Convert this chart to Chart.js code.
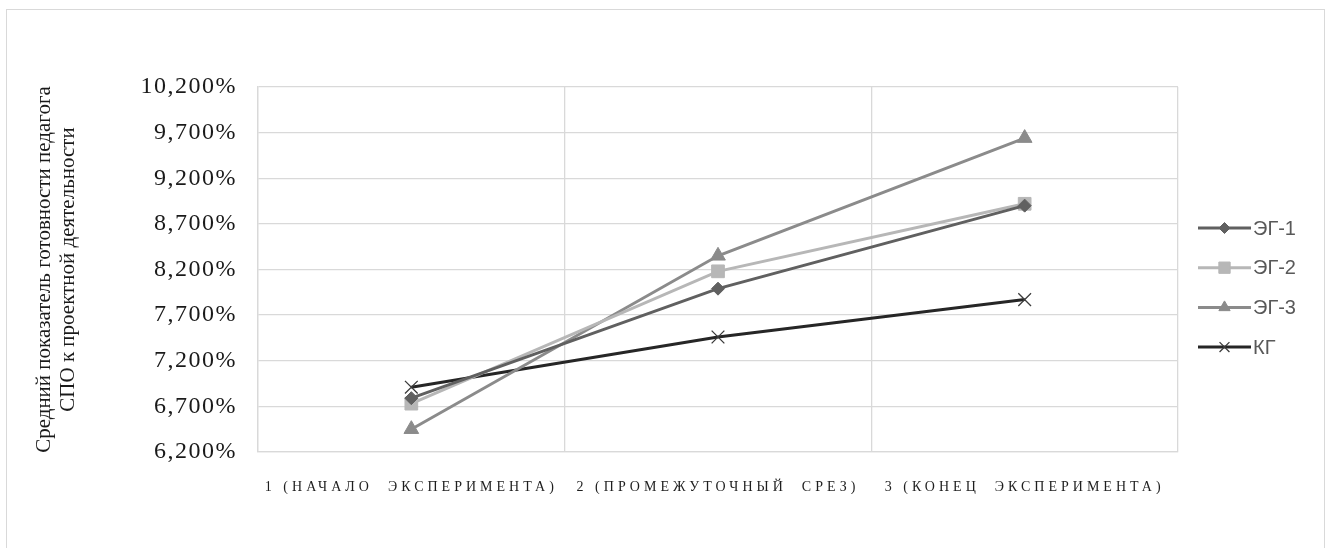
<!DOCTYPE html>
<html>
<head>
<meta charset="utf-8">
<script src="https://cdn.jsdelivr.net/npm/chart.js@4.4.1/dist/chart.umd.min.js"></script>
<style>
  html, body { margin: 0; padding: 0; background: #fff; }
  #wrap { position: absolute; left: 0; top: 0; width: 1328px; height: 548px; overflow: hidden; }
  #frame { position: absolute; left: 6px; top: 9px; width: 1319px; height: 600px; border: 1px solid #d9d9d9; box-sizing: border-box; }
  #c { position: absolute; left: 0; top: 0; }
</style>
</head>
<body>
<div id="wrap">
  <div id="frame"></div>
  <canvas id="c" width="1328" height="548"></canvas>
</div>
<script>
// Stages of the experiment
const categories = ['1 (НАЧАЛО  ЭКСПЕРИМЕНТА)', '2 (ПРОМЕЖУТОЧНЫЙ  СРЕЗ)', '3 (КОНЕЦ  ЭКСПЕРИМЕНТА)'];

// Average readiness, %
const eg1 = [6.79, 7.99, 8.90];
const eg2 = [6.73, 8.18, 8.92];
const eg3 = [6.45, 8.35, 9.64];
const kg  = [6.91, 7.46, 7.87];

const seriesNames = ['ЭГ-1', 'ЭГ-2', 'ЭГ-3', 'КГ'];
const yTicks = [6.2, 6.7, 7.2, 7.7, 8.2, 8.7, 9.2, 9.7, 10.2];
const yTitle = ['Средний показатель готовности педагога', 'СПО к проектной деятельности'];

const fmtPct = v => v.toFixed(3).replace('.', ',') + '%';

// Legend on the right: a short line with the series marker in the middle
const sideLegend = {
  id: 'sideLegend',
  afterDraw(chart) {
    const ctx = chart.ctx;
    const area = chart.chartArea;
    const x0 = area.right + 20;
    const len = 53;
    chart.data.datasets.forEach((ds, i) => {
      const y = area.top + 141 + i * 39.7;
      ctx.save();
      ctx.strokeStyle = ds.borderColor;
      ctx.lineWidth = ds.borderWidth;
      ctx.beginPath();
      ctx.moveTo(x0, y);
      ctx.lineTo(x0 + len, y);
      ctx.stroke();
      ctx.fillStyle = ds.pointBackgroundColor;
      ctx.strokeStyle = ds.pointBorderColor;
      ctx.lineWidth = ds.pointBorderWidth;
      Chart.helpers.drawPoint(ctx, { pointStyle: ds.pointStyle, radius: ds.legendRadius, rotation: 0, borderWidth: ds.pointBorderWidth }, x0 + len / 2, y);
      ctx.fillStyle = '#595959';
      ctx.font = '20px "Liberation Sans", Arial, sans-serif';
      ctx.textAlign = 'left';
      ctx.textBaseline = 'middle';
      ctx.fillText(ds.label, x0 + len + 2, y + 1);
      ctx.restore();
    });
  }
};

// Spaced-out lettering for the axis labels
const spacedLabels = {
  id: 'spacedLabels',
  beforeDraw(chart) {
    const spacing = { x: '4px', y: '1.5px' };
    Object.keys(spacing).forEach(id => {
      const s = chart.scales[id];
      if (s && !s._spaced) {
        const orig = s.drawLabels.bind(s);
        s.drawLabels = function (area) {
          const ctx = chart.ctx;
          ctx.save();
          ctx.letterSpacing = spacing[id];
          orig(area);
          ctx.restore();
        };
        s._spaced = true;
      }
    });
  }
};

const mk = (label, data, color, style, radius, legendRadius, pointColor, pointBorder, pointBorderWidth) => ({
  label, data,
  borderColor: color,
  borderWidth: 3,
  pointStyle: style,
  pointRadius: radius,
  pointHoverRadius: radius,
  legendRadius,
  pointBackgroundColor: pointColor,
  pointBorderColor: pointBorder,
  pointBorderWidth,
  tension: 0,
  fill: false
});

const chart = new Chart(document.getElementById('c'), {
  type: 'line',
  data: {
    labels: categories,
    datasets: [
      mk(seriesNames[0], eg1, '#606060', 'rectRot', 6.5, 5.5, '#606060', '#606060', 1),
      mk(seriesNames[1], eg2, '#b7b7b7', 'rect', 9, 8, '#b7b7b7', '#b7b7b7', 1),
      mk(seriesNames[2], eg3, '#8b8b8b', 'triangle', 8.5, 6.5, '#8b8b8b', '#8b8b8b', 1),
      mk(seriesNames[3], kg, '#262626', 'crossRot', 9, 7, '#262626', '#3c3c3c', 1.3)
    ]
  },
  options: {
    responsive: false,
    animation: false,
    events: [],
    layout: { padding: { left: 0, right: 150, top: 87, bottom: 54 } },
    plugins: { legend: { display: false }, tooltip: { enabled: false } },
    scales: {
      x: {
        type: 'category',
        offset: true,
        grid: { display: true, offset: true, color: '#d9d9d9', lineWidth: 1.3, drawTicks: false },
        border: { display: true, color: '#d9d9d9', width: 1.3 },
        ticks: {
          autoSkip: false, maxRotation: 0, minRotation: 0,
          padding: 27,
          color: '#1e1e1e',
          font: { family: '"Liberation Serif", "Times New Roman", serif', size: 14 }
        },
        afterFit(s) { s.height = 42; }
      },
      y: {
        type: 'linear',
        min: 6.2, max: 10.2,
        afterBuildTicks(s) { s.ticks = yTicks.map(v => ({ value: v })); },
        grid: { color: '#d9d9d9', lineWidth: 1.3, drawTicks: false },
        border: { display: true, color: '#d9d9d9', width: 1.3 },
        ticks: {
          padding: 21,
          color: '#1a1a1a',
          font: { family: '"Liberation Serif", "Times New Roman", serif', size: 24 },
          callback: v => fmtPct(v)
        },
        title: {
          display: true,
          text: yTitle,
          color: '#1a1a1a',
          padding: { top: 32, bottom: 0 },
          font: { family: '"Liberation Serif", "Times New Roman", serif', size: 21, lineHeight: 1.15 }
        },
        afterFit(s) { s.width = 258; }
      }
    }
  },
  plugins: [spacedLabels, sideLegend]
});
chart.draw();
</script>
</body>
</html>
